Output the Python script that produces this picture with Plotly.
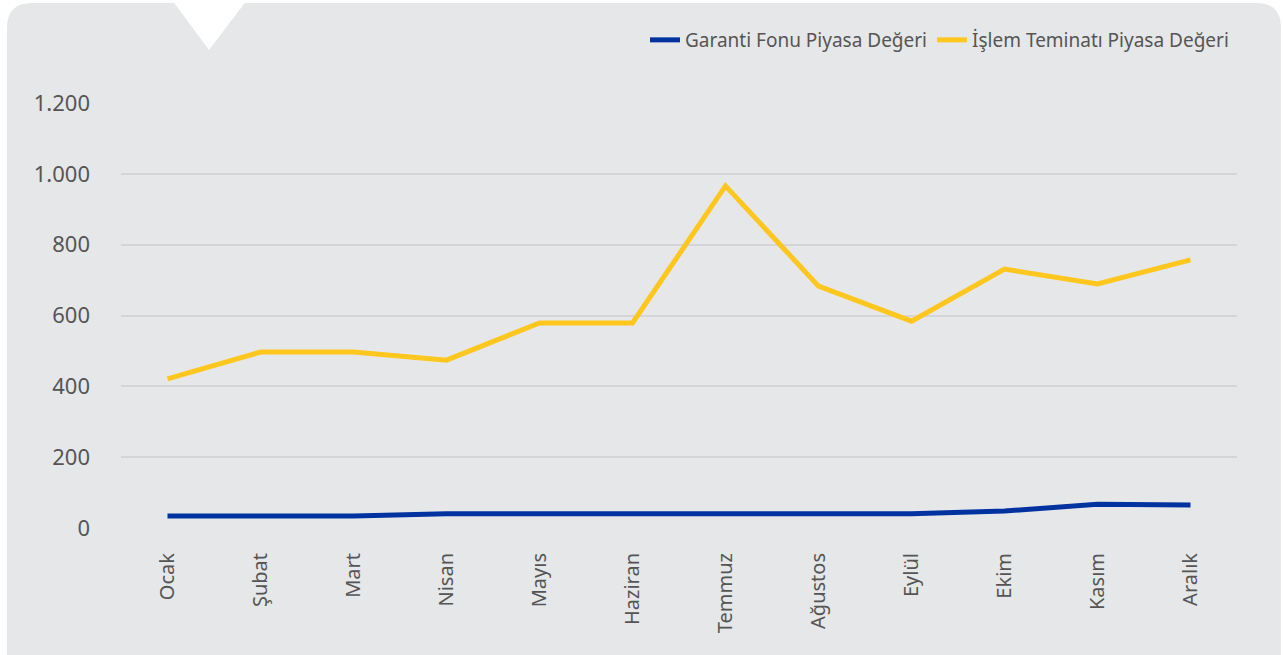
import plotly.graph_objects as go

# Monthly market values
months = ["Ocak", "Şubat", "Mart", "Nisan", "Mayıs", "Haziran",
          "Temmuz", "Ağustos", "Eylül", "Ekim", "Kasım", "Aralık"]
garanti_fonu = [34, 34, 34, 40, 40, 40, 40, 40, 40, 48, 67, 65]
islem_teminati = [421, 497, 497, 474, 579, 579, 966, 683, 584, 731, 689, 757]
y_ticks = [0, 200, 400, 600, 800, 1000, 1200]

W, H = 1283, 655
L, R, T, B = 121, 46, 103, 127
PW, PH = W - L - R, H - T - B


def px(x):
    return (x - L) / PW


def py(y):
    return (H - B - y) / PH


# Rounded background panel
x0, x1, y0, y1 = px(7), px(1281), py(3), py(660)
rx, ry = 25 / PW, 25 / PH
panel = (f"M {x0},{y1} L {x0},{y0 - ry} Q {x0},{y0} {x0 + rx},{y0} "
         f"L {x1 - rx},{y0} Q {x1},{y0} {x1},{y0 - ry} L {x1},{y1} Z")
notch = f"M {px(172)},{py(0)} L {px(247)},{py(0)} L {px(209)},{py(50)} Z"

fig = go.Figure()
fig.add_trace(go.Scatter(x=months, y=garanti_fonu, mode="lines",
                         name="Garanti Fonu Piyasa Değeri",
                         line=dict(color="#0033a0", width=5)))
fig.add_trace(go.Scatter(x=months, y=islem_teminati, mode="lines",
                         name="İşlem Teminatı Piyasa Değeri",
                         line=dict(color="#ffc61e", width=5)))

fig.update_layout(
    width=W, height=H,
    margin=dict(l=L, r=R, t=T, b=B),
    paper_bgcolor="white",
    plot_bgcolor="rgba(0,0,0,0)",
    separators=",.",
    font=dict(family="Noto Sans", color="#555555"),
    shapes=[
        dict(type="path", path=panel, xref="paper", yref="paper",
             fillcolor="#e6e7e9", line=dict(width=0), layer="below"),
        dict(type="path", path=notch, xref="paper", yref="paper",
             fillcolor="white", line=dict(width=0), layer="below"),
    ],
    legend=dict(orientation="h", x=px(1234), xanchor="right",
                y=py(40), yanchor="middle",
                font=dict(size=19, color="#555555"),
                bgcolor="rgba(0,0,0,0)", itemwidth=30),
    showlegend=True,
)
fig.update_xaxes(type="category", range=[-0.5, 11.5], showgrid=False,
                 showline=False, zeroline=False, tickangle=-90, ticks="",
                 ticklabelstandoff=20,
                 tickfont=dict(size=20, color="#555555"))
fig.update_yaxes(range=[0, 1200], tickvals=y_ticks, tickformat=",d",
                 showgrid=True, gridcolor="#d4d5d7", gridwidth=2,
                 zeroline=False, showline=False, ticks="",
                 ticklabelstandoff=30,
                 tickfont=dict(size=22, color="#555555"))

fig.write_html("out.html")
